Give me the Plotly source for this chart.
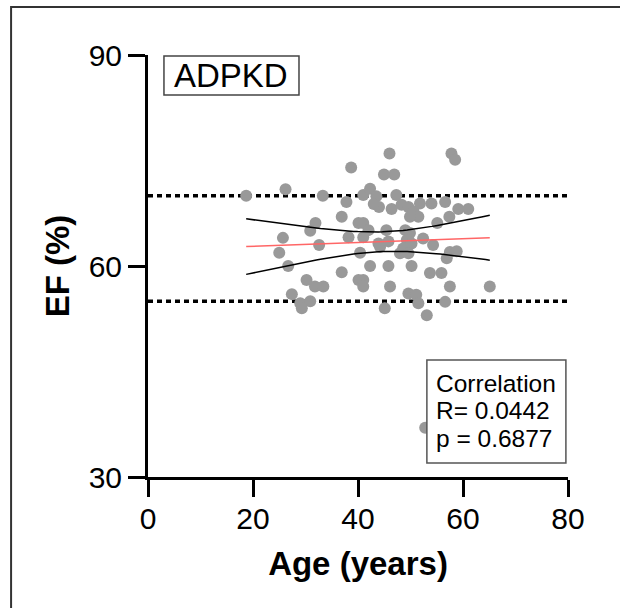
import numpy as np
import plotly.graph_objects as go

# ---- data ----
age = [18.7, 26.2, 33.3, 25.7, 25.0, 26.7, 31.9, 30.9, 32.6, 30.2, 31.8, 33.4, 27.4, 29.0, 30.9, 29.3,
       38.7, 46.0, 44.95, 46.9, 37.8, 41.0, 42.3, 43.5, 44.0, 46.4, 47.3, 36.9, 40.1, 41.0, 42.0, 38.2,
       41.0, 45.4, 43.9, 44.2, 45.8, 40.4, 42.3, 45.8, 36.9, 40.1, 41.0, 41.0, 46.1, 45.1, 48.0, 43.0,
       57.8, 58.5, 48.3, 49.6, 50.6, 51.5, 49.9, 51.8, 54.0, 56.6, 59.1, 61.0, 57.4, 55.1, 49.0, 49.9,
       49.3, 50.2, 48.6, 49.6, 52.4, 54.3, 57.5, 58.8, 56.9, 50.2, 53.7, 55.9, 57.5, 49.6, 51.1, 51.5,
       56.6, 53.1, 65.1, 52.8]
ef = [70.0, 70.9, 70.0, 64.0, 61.9, 60.0, 66.1, 65.0, 63.0, 58.0, 57.1, 57.1, 56.0, 54.7, 55.0, 54.0,
      74.0, 76.0, 73.0, 73.0, 69.1, 70.1, 71.0, 69.9, 68.4, 68.1, 70.1, 67.0, 66.1, 66.1, 65.1, 64.1,
      64.1, 65.1, 63.2, 62.7, 63.5, 61.9, 60.0, 60.0, 59.1, 58.0, 58.0, 57.1, 57.1, 54.0, 61.8, 68.8,
      76.0, 75.1, 68.7, 68.4, 67.7, 67.0, 67.0, 68.9, 68.9, 69.1, 68.1, 68.1, 67.0, 66.1, 65.1, 64.7,
      63.7, 63.2, 62.5, 61.8, 63.9, 63.0, 62.0, 62.1, 61.1, 60.0, 59.0, 59.0, 57.1, 56.1, 55.9, 54.7,
      54.9, 53.0, 57.1, 37.0]
ref_lines = [55, 70]
x_ticks = [0, 20, 40, 60, 80]
y_ticks = [30, 60, 90]
panel_label = "ADPKD"
stats_lines = ["Correlation", "R= 0.0442", "p = 0.6877"]
T_CRIT = 1.99

# ---- linear fit + 95% confidence band, computed from data ----
xa = np.array(age)
ya = np.array(ef)
n = len(xa)
slope, intercept = np.polyfit(xa, ya, 1)
resid = ya - (slope * xa + intercept)
s = np.sqrt(np.sum(resid ** 2) / (n - 2))
xbar = xa.mean()
sxx = np.sum((xa - xbar) ** 2)
xg = np.linspace(xa.min(), xa.max(), 60)
yg = slope * xg + intercept
half = T_CRIT * s * np.sqrt(1.0 / n + (xg - xbar) ** 2 / sxx)

FONT = "Liberation Sans, Arial, sans-serif"

fig = go.Figure()
for yv in ref_lines:
    fig.add_trace(go.Scatter(x=[x_ticks[0], x_ticks[-1]], y=[yv, yv], mode="lines",
                             line=dict(color="black", width=3.5, dash="5px,4px"),
                             hoverinfo="skip", showlegend=False))
fig.add_trace(go.Scatter(x=age, y=ef, mode="markers",
                         marker=dict(size=12, color="#999999", line=dict(width=0)),
                         showlegend=False))
fig.add_trace(go.Scatter(x=xg, y=yg + half, mode="lines", line=dict(color="black", width=1.5), showlegend=False))
fig.add_trace(go.Scatter(x=xg, y=yg - half, mode="lines", line=dict(color="black", width=1.5), showlegend=False))
fig.add_trace(go.Scatter(x=xg, y=yg, mode="lines", line=dict(color="#ff6666", width=1.5), showlegend=False))

axis_common = dict(showgrid=False, zeroline=False, showline=True, linecolor="black", linewidth=3,
                   ticks="outside", ticklen=17, tickwidth=3, tickcolor="black",
                   tickfont=dict(family=FONT, size=30, color="black"))
fig.update_xaxes(range=[0, 80], tickvals=x_ticks, ticklabelstandoff=-4, **axis_common,
                 title=dict(text="<b>Age (years)</b>", font=dict(family=FONT, size=33, color="black"), standoff=18))
fig.update_yaxes(range=[30, 90], tickvals=y_ticks, **axis_common,
                 title=dict(text="<b>EF (%)</b>", font=dict(family=FONT, size=33, color="black"), standoff=10))

shapes = [
    dict(type="rect", xref="paper", yref="paper", x0=-0.326, x1=1.3, y0=-0.45, y1=1.1137,
         line=dict(color="#333333", width=2), layer="below"),
    dict(type="rect", xref="paper", yref="paper", x0=0.038, x1=0.3595, y0=0.905, y1=0.9976,
         line=dict(color="#444444", width=1.5), fillcolor="white"),
    dict(type="rect", xref="paper", yref="paper", x0=0.664, x1=0.995, y0=0.0332, y1=0.2773,
         line=dict(color="#555555", width=1.5), fillcolor="white"),
]
annotations = [
    dict(xref="paper", yref="paper", x=0.1988, y=0.9514, text=panel_label, showarrow=False,
         xanchor="center", yanchor="middle", font=dict(family=FONT, size=33, color="black")),
]
for txt, yy in zip(stats_lines, [0.2227, 0.1564, 0.0924]):
    annotations.append(dict(xref="paper", yref="paper", x=0.681, y=yy, text=txt, showarrow=False,
                            xanchor="left", yanchor="middle", font=dict(family=FONT, size=24.5, color="black")))

fig.update_layout(width=620, height=608, margin=dict(l=148, r=52, t=55, b=131),
                  paper_bgcolor="white", plot_bgcolor="white",
                  shapes=shapes, annotations=annotations, showlegend=False)
fig.write_html("out.html")
